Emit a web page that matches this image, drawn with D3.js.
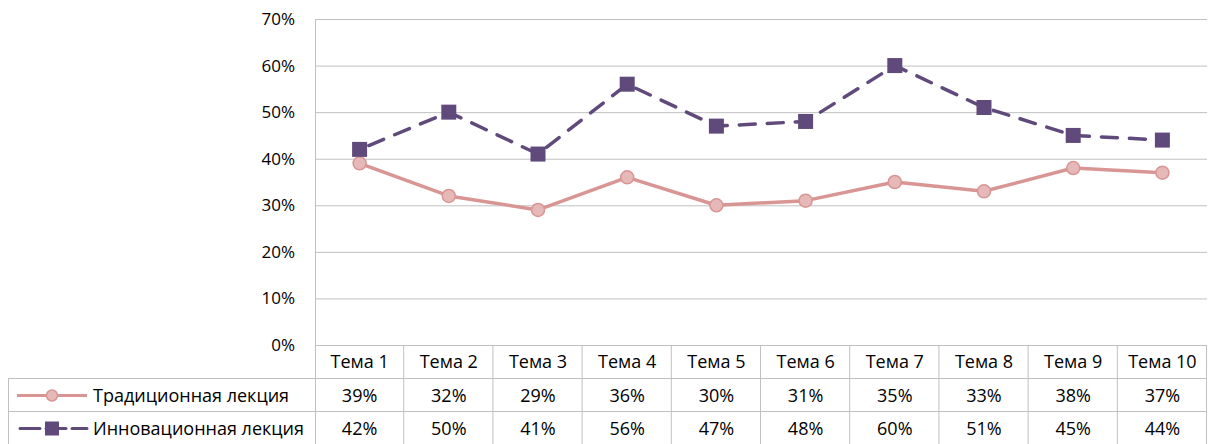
<!DOCTYPE html>
<html>
<head>
<meta charset="utf-8">
<script src="https://cdn.jsdelivr.net/npm/d3@7"></script>
<style>
  body { margin: 0; background: #fff; }
  text { font-family: "Open Sans", "Noto Sans", sans-serif; fill: #000; }
</style>
</head>
<body>
<div id="plot"></div>
<script>
// chart data
const categories = ["Тема 1", "Тема 2", "Тема 3", "Тема 4", "Тема 5", "Тема 6", "Тема 7", "Тема 8", "Тема 9", "Тема 10"];
const traditional = [39, 32, 29, 36, 30, 31, 35, 33, 38, 37];
const innovative = [42, 50, 41, 56, 47, 48, 60, 51, 45, 44];
const seriesNames = ["Традиционная лекция", "Инновационная лекция"];
const yTicks = [0, 10, 20, 30, 40, 50, 60, 70];

const w = 1208;
const h = 444;
const margin = {top: 19, right: 1, bottom: 99, left: 315};
const tableLeft = 8;
const rowH = 33;

const gridColor = "#c0c0c0";
const pink = "#d99594";
const pinkFill = "#e6b9b8";
const purple = "#604a7b";

const svg = d3.select("#plot")
  .append("svg")
    .attr("width", w)
    .attr("height", h);

const xScale = d3.scaleBand()
    .domain(categories)
    .range([margin.left, w - margin.right]);

const yScale = d3.scaleLinear()
    .domain([0, 70])
    .range([h - margin.bottom, margin.top]);

// gridlines
svg.append("g")
  .selectAll("line")
  .data(yTicks)
  .enter().append("line")
    .attr("x1", margin.left)
    .attr("x2", w - margin.right)
    .attr("y1", d => yScale(d) + 0.5)
    .attr("y2", d => yScale(d) + 0.5)
    .attr("stroke", gridColor)
    .attr("stroke-width", 1);

// y axis labels
svg.append("g")
  .selectAll("text")
  .data(yTicks)
  .enter().append("text")
    .attr("x", 295)
    .attr("y", d => yScale(d))
    .attr("dy", "0.35em")
    .attr("text-anchor", "end")
    .style("font-size", "17px")
    .text(d => d + "%");

// vertical axis line
svg.append("line")
    .attr("x1", margin.left + 0.5).attr("x2", margin.left + 0.5)
    .attr("y1", margin.top).attr("y2", h)
    .attr("stroke", gridColor);

// data table
const tableTop = yScale(0);
const rows = [traditional, innovative];

// horizontal table lines
svg.append("g")
  .selectAll("line")
  .data([1, 2, 3])
  .enter().append("line")
    .attr("x1", tableLeft)
    .attr("x2", w - margin.right)
    .attr("y1", d => tableTop + d * rowH + 0.5)
    .attr("y2", d => tableTop + d * rowH + 0.5)
    .attr("stroke", gridColor);

// vertical table lines
svg.append("g")
  .selectAll("line")
  .data(categories)
  .enter().append("line")
    .attr("x1", d => xScale(d) + xScale.bandwidth() - 0.5)
    .attr("x2", d => xScale(d) + xScale.bandwidth() - 0.5)
    .attr("y1", tableTop)
    .attr("y2", h)
    .attr("stroke", gridColor);

svg.append("line")
    .attr("x1", tableLeft + 0.5).attr("x2", tableLeft + 0.5)
    .attr("y1", tableTop + rowH).attr("y2", h)
    .attr("stroke", gridColor);

// header
svg.append("g")
  .selectAll("text")
  .data(categories)
  .enter().append("text")
    .attr("x", d => xScale(d) + xScale.bandwidth() / 2)
    .attr("y", tableTop + rowH / 2)
    .attr("dy", "0.35em")
    .attr("text-anchor", "middle")
    .style("font-size", "18px")
    .text(d => d);

// values
rows.forEach((vals, i) => {
  svg.append("g")
    .selectAll("text")
    .data(vals)
    .enter().append("text")
      .attr("x", (d, j) => xScale(categories[j]) + xScale.bandwidth() / 2)
      .attr("y", tableTop + rowH * (i + 1) + rowH / 2 + 1)
      .attr("dy", "0.35em")
      .attr("text-anchor", "middle")
      .style("font-size", "18px")
      .text(d => d + "%");
});

// legend keys in table
const legendY = [tableTop + rowH * 1.5 + 1, tableTop + rowH * 2.5 + 1];
const lg = svg.append("g");
lg.append("line")
    .attr("x1", 17).attr("x2", 87)
    .attr("y1", legendY[0]).attr("y2", legendY[0])
    .attr("stroke", pink).attr("stroke-width", 3);
lg.append("circle")
    .attr("cx", 52).attr("cy", legendY[0]).attr("r", 5.5)
    .attr("fill", pinkFill).attr("stroke", pink).attr("stroke-width", 1.5);
lg.append("line")
    .attr("x1", 17).attr("x2", 87)
    .attr("y1", legendY[1]).attr("y2", legendY[1])
    .attr("stroke", purple).attr("stroke-width", 3)
    .attr("stroke-dasharray", "20,6").attr("stroke-dashoffset", -3)
    .attr("stroke-linecap", "round");
lg.append("rect")
    .attr("x", 45).attr("y", legendY[1] - 7).attr("width", 14).attr("height", 14)
    .attr("fill", purple);
lg.selectAll("text")
  .data(seriesNames)
  .enter().append("text")
    .attr("x", 93)
    .attr("y", (d, i) => legendY[i])
    .attr("dy", "0.35em")
    .style("font-size", "18px")
    .text(d => d);

// lines
const cx = (d, i) => xScale(categories[i]) + xScale.bandwidth() / 2;
const line = d3.line()
    .x(cx)
    .y(d => yScale(d));

svg.append("path")
    .datum(traditional)
    .attr("d", line)
    .attr("fill", "none")
    .attr("stroke", pink)
    .attr("stroke-width", 3.5)
    .attr("stroke-linejoin", "round");

svg.append("path")
    .datum(innovative)
    .attr("d", line)
    .attr("fill", "none")
    .attr("stroke", purple)
    .attr("stroke-width", 3.5)
    .attr("stroke-dasharray", "16,12")
    .attr("stroke-dashoffset", -10)
    .attr("stroke-linecap", "round");

// markers
svg.append("g")
  .selectAll("circle")
  .data(traditional)
  .enter().append("circle")
    .attr("cx", cx)
    .attr("cy", d => yScale(d))
    .attr("r", 6.5)
    .attr("fill", pinkFill)
    .attr("stroke", pink)
    .attr("stroke-width", 1.5);

svg.append("g")
  .selectAll("rect")
  .data(innovative)
  .enter().append("rect")
    .attr("x", (d, i) => cx(d, i) - 7.5)
    .attr("y", d => yScale(d) - 7.5)
    .attr("width", 15)
    .attr("height", 15)
    .attr("fill", purple);
</script>
</body>
</html>
